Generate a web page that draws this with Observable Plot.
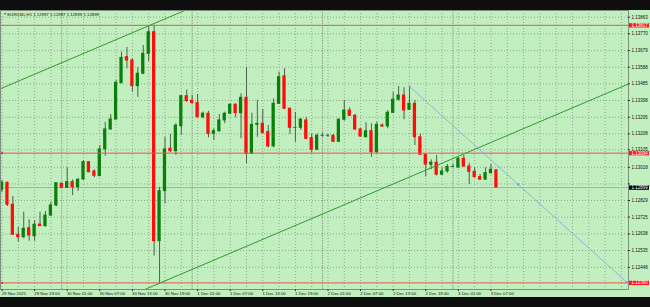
<!DOCTYPE html>
<html><head><meta charset="utf-8">
<script src="https://cdn.jsdelivr.net/npm/d3@7"></script>
<script src="https://cdn.jsdelivr.net/npm/@observablehq/plot@0.6"></script>
<style>
html,body{margin:0;padding:0;background:#0e0e0e;}
#chart{width:650px;height:307px;padding-top:10px;box-sizing:border-box;overflow:hidden;}
#chart svg{display:block;}
</style></head><body><div id="chart"></div>
<script>
// ---- data ----
const symbolTitle = "EURUSD,H1";
const lastOHLC = ["1.12997", "1.12997", "1.12899", "1.12899"];

const opens = [1.12887,1.12926,1.12802,1.12632,1.12619,1.12669,1.12624,1.12690,1.12681,1.12741,
1.12798,1.12921,1.12898,1.12930,1.12901,1.12945,1.13043,1.12990,1.12964,1.13115,
1.13228,1.13284,1.13490,1.13637,1.13618,1.13473,1.13543,1.13656,1.13778,1.12596,
1.12879,1.13119,1.13105,1.13246,1.13416,1.13390,1.13377,1.13297,1.13317,1.13203,
1.13218,1.13279,1.13317,1.13368,1.13320,1.13407,1.13090,1.13254,1.13260,1.13213,
1.13132,1.13373,1.13528,1.13345,1.13237,1.13237,1.13279,1.13179,1.13113,1.13192,
1.13192,1.13192,1.13158,1.13283,1.13335,1.13305,1.13228,1.13184,1.13218,1.13099,
1.13250,1.13246,1.13322,1.13396,1.13420,1.13339,1.13373,1.13184,1.13085,1.13028,
1.13040,1.12972,1.12990,1.13016,1.13013,1.13062,1.13018,1.12988,1.12958,1.12944,
1.12981,1.12997];
const highs = [1.12939,1.12930,1.12850,1.12675,1.12760,1.12717,1.12713,1.12760,1.12764,1.12817,
1.12924,1.12924,1.13011,1.12943,1.12951,1.13052,1.13047,1.13000,1.13137,1.13269,
1.13313,1.13505,1.13665,1.13692,1.13629,1.13578,1.13703,1.13810,1.13817,1.12901,
1.13184,1.13200,1.13260,1.13420,1.13452,1.13420,1.13426,1.13326,1.13331,1.13232,
1.13313,1.13326,1.13373,1.13373,1.13430,1.13580,1.13320,1.13392,1.13341,1.13250,
1.13401,1.13552,1.13571,1.13350,1.13324,1.13288,1.13297,1.13203,1.13203,1.13207,
1.13200,1.13200,1.13288,1.13392,1.13350,1.13313,1.13232,1.13266,1.13260,1.13269,
1.13260,1.13335,1.13439,1.13471,1.13464,1.13471,1.13392,1.13203,1.13090,1.13056,
1.13081,1.13011,1.13030,1.13030,1.13068,1.13081,1.13037,1.13011,1.12973,1.13011,
1.13030,1.12997];
const lows = [1.12871,1.12792,1.12628,1.12590,1.12609,1.12596,1.12596,1.12679,1.12675,1.12736,
1.12792,1.12894,1.12896,1.12854,1.12877,1.12939,1.12983,1.12955,1.12964,1.13077,
1.13222,1.13284,1.13486,1.13571,1.13439,1.13410,1.13539,1.13612,1.12512,1.12358,
1.12807,1.13098,1.13081,1.13194,1.13382,1.13373,1.13294,1.13288,1.13181,1.13166,
1.13213,1.13260,1.13313,1.13294,1.13175,1.13034,1.13086,1.13184,1.13200,1.13124,
1.13124,1.13369,1.13341,1.13200,1.13156,1.13222,1.13170,1.13094,1.13109,1.13184,
1.13184,1.13154,1.13154,1.13275,1.13301,1.13222,1.13184,1.13181,1.13071,1.13090,
1.13239,1.13232,1.13317,1.13390,1.13283,1.13335,1.13137,1.13081,1.12959,1.13000,
1.12965,1.12968,1.12981,1.13011,1.13007,1.13015,1.12917,1.12955,1.12939,1.12941,
1.12974,1.12899];
const closes = [1.12926,1.12802,1.12632,1.12619,1.12666,1.12628,1.12689,1.12681,1.12741,1.12798,
1.12924,1.12898,1.12930,1.12901,1.12943,1.13043,1.12986,1.12966,1.13115,1.13228,
1.13284,1.13492,1.13633,1.13618,1.13473,1.13543,1.13656,1.13778,1.12596,1.12879,
1.13115,1.13105,1.13250,1.13416,1.13388,1.13377,1.13297,1.13317,1.13203,1.13218,
1.13279,1.13317,1.13368,1.13320,1.13407,1.13090,1.13254,1.13260,1.13209,1.13132,
1.13373,1.13524,1.13345,1.13237,1.13237,1.13284,1.13175,1.13113,1.13192,1.13192,
1.13192,1.13158,1.13283,1.13335,1.13305,1.13228,1.13188,1.13218,1.13099,1.13254,
1.13245,1.13322,1.13396,1.13420,1.13335,1.13373,1.13184,1.13085,1.13029,1.13040,
1.12972,1.12990,1.13016,1.13016,1.13062,1.13018,1.12988,1.12958,1.12944,1.12981,
1.13000,1.12899];

// time axis labels (bar index, text)
const timeLabelIdx = [0,6,12,18,24,30,36,42,48,54,60,66,72,78,84,90];
const timeLabels = ["29 Nov 2021","29 Nov 19:00","30 Nov 01:00","30 Nov 07:00","30 Nov 13:00",
"30 Nov 19:00","1 Dec 01:00","1 Dec 07:00","1 Dec 13:00","1 Dec 19:00","2 Dec 01:00",
"2 Dec 07:00","2 Dec 13:00","2 Dec 19:00","3 Dec 01:00","3 Dec 07:00"];
// price axis: tick positions (as prices) and their printed labels
const priceTickValues = [1.13863,1.13769,1.13674,1.13580,1.13486,1.13392,1.13297,1.13203,
1.13113,1.13014,1.12920,1.12826,1.12732,1.12637,1.12543,1.12448];
const priceTickLabels = ["1.13863","1.13770","1.13679","1.13588","1.13485","1.13398","1.13295",
"1.13208","1.13105","1.13018","1.12918","1.12829","1.12725","1.12638","1.12535","1.12448"];
const hiddenTickIndex = 10; // covered by the bid label
// horizontal levels
const levelPrices = [1.13817, 1.13094, 1.12360];
const levelLabels = ["1.13817", "1.13094", "1.12360"];
const markedLevels = [1.13094, 1.12360];
const bidPrice = 1.12899;
const bidLabel = "1.12899";
// day separators (bar index)
const daySeparators = [11, 35, 59, 83];
// trend lines (bar index, price)
const channelUpper = [{i: -1, p: 1.13449}, {i: 40, p: 1.13984}];
const channelLower = [{i: 26, p: 1.12319}, {i: 116, p: 1.13494}];
const blueLine = [{i: 75, p: 1.13471}, {i: 95, p: 1.12917}, {i: 115, p: 1.12364}];

// ---- build ----
const candles = opens.map((o, i) => ({i, open: o, high: highs[i], low: lows[i], close: closes[i]}));
const up = candles.filter(d => d.close > d.open);
const down = candles.filter(d => d.close < d.open);
const doji = candles.filter(d => d.close === d.open);
const shownTicks = priceTickValues.map((v, k) => ({v, t: priceTickLabels[k]})).filter((d, k) => k !== hiddenTickIndex);
const gridIdx = d3.range(0, 116, 3);

const BG = "#c2efbf", GRID = "#93a993", BULL = "#0a7f0a", BEAR = "#ff0d0d",
      WICK = "#4e604e", RED = "#e8574a", CHAN = "#2f9a2f", BLUE = "#7d9ae6";
const font = "'Liberation Sans', Arial, sans-serif";

const plot = Plot.plot({
  width: 650, height: 287,
  marginTop: 0, marginRight: 22, marginBottom: 8, marginLeft: 0,
  x: {domain: [-0.276, 115.31], axis: null},
  y: {domain: [1.123226, 1.139009], axis: null},
  style: {background: BG, fontFamily: font, overflow: "visible"},
  marks: [
    Plot.ruleY(priceTickValues, {stroke: GRID, strokeDasharray: "1,2"}),
    Plot.ruleX(gridIdx, {stroke: GRID, strokeDasharray: "1,2"}),
    Plot.ruleX(daySeparators, {stroke: "#8a9c8a", strokeDasharray: "1.5,1"}),
    Plot.ruleY([bidPrice], {stroke: "#a2b2a2"}),
    Plot.ruleX(candles, {x: "i", y1: "low", y2: "high", stroke: WICK}),
    Plot.rect(up, {x1: d => d.i - 0.3, x2: d => d.i + 0.3, y1: "open", y2: "close", fill: BULL, insetTop: -0.5, insetBottom: -0.5}),
    Plot.rect(down, {x1: d => d.i - 0.3, x2: d => d.i + 0.3, y1: "open", y2: "close", fill: BEAR, insetTop: -0.5, insetBottom: -0.5}),
    Plot.rect(doji, {x1: d => d.i - 0.3, x2: d => d.i + 0.3, y1: "open", y2: "close", fill: WICK, insetTop: -0.5, insetBottom: -0.5}),
    Plot.ruleY(levelPrices, {stroke: RED}),
    Plot.dot(markedLevels, {y: d => d, frameAnchor: "left", dx: 1.5, r: 1.1, symbol: "square", fill: "#ff2020"}),
    Plot.line(channelUpper, {x: "i", y: "p", stroke: CHAN, strokeWidth: 1, clip: true}),
    Plot.line(channelLower, {x: "i", y: "p", stroke: CHAN, strokeWidth: 1, clip: true}),
    Plot.line(blueLine, {x: "i", y: "p", stroke: BLUE, strokeWidth: 0.8, strokeDasharray: "1.5,1"}),
    Plot.dot(blueLine, {x: "i", y: "p", r: 1.1, fill: BLUE}),
    Plot.frame({stroke: "#7f8f7f"}),
    // price axis
    Plot.ruleY(priceTickValues, {insetLeft: 628, insetRight: -2, stroke: "#333"}),
    Plot.text(shownTicks, {y: "v", text: "t", frameAnchor: "right", dx: 3, textAnchor: "start", fontSize: 4.5, fill: "#111"}),
    Plot.ruleY(levelPrices, {insetLeft: 629, insetRight: -21, stroke: "#ff1a1a", strokeWidth: 4.4}),
    Plot.text(levelPrices, {y: d => d, text: (d, i) => levelLabels[i], frameAnchor: "right", dx: 3, textAnchor: "start", fontSize: 4.5, fill: "#fff"}),
    Plot.ruleY([bidPrice], {insetLeft: 629, insetRight: -21, stroke: "#000", strokeWidth: 4.4}),
    Plot.text([bidLabel], {y: +bidLabel, text: d => d, frameAnchor: "right", dx: 3, textAnchor: "start", fontSize: 4.5, fill: "#fff"}),
    // time axis
    Plot.ruleX(timeLabelIdx, {insetTop: 279, insetBottom: -2, stroke: "#333"}),
    Plot.text(timeLabelIdx, {x: d => d, text: (d, i) => timeLabels[i], frameAnchor: "bottom", dy: 4.2, dx: -0.3, textAnchor: "start", lineAnchor: "middle", fontSize: 4.3, fill: "#111"}),
    // title
    Plot.text(["\u25BC"], {frameAnchor: "top-left", dx: 3, dy: 4, textAnchor: "start", lineAnchor: "middle", fontSize: 3, fill: "#111"}),
    Plot.text([symbolTitle + " " + lastOHLC.join(" ")], {frameAnchor: "top-left", dx: 6.7, dy: 4, textAnchor: "start", lineAnchor: "middle", fontSize: 4.3, fill: "#111"})
  ]
});
document.getElementById("chart").append(plot);
</script></body></html>
